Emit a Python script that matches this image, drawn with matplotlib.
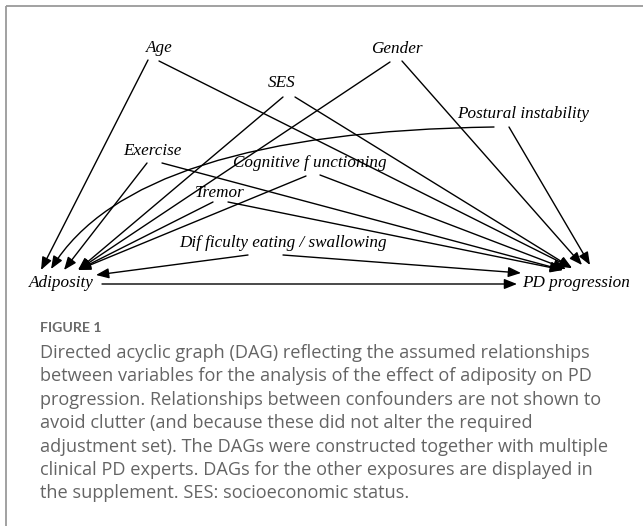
import matplotlib.pyplot as plt
from matplotlib.patches import FancyArrowPatch
from matplotlib.path import Path

# 节点（像素坐标，原图 643x526）
node_names = ['Age', 'Gender', 'SES', 'Postural instability', 'Exercise',
              'Cognitive f unctioning', 'Tremor', 'Dif ficulty eating / swallowing',
              'Adiposity', 'PD progression']
node_x = [159, 397, 282, 523, 152, 310, 220, 283, 61, 576]
node_y = [48, 49, 83, 114, 151, 163, 193, 243, 283, 283]

confounders = node_names[:8]
# 起点偏移：指向 Adiposity / 指向 PD progression
out_left = [(-11, 12), (-7, 13), (1, 14), (-29, 13), (-5, 12), (-4, 13), (-7, 9), (-35, 12)]
out_right = [(0, 13), (5, 12), (13, 14), (-14, 13), (10, 12), (10, 12), (8, 9), (0, 12)]
# 箭头落点偏移（相对 Adiposity / PD progression）
tip_adiposity = [(-20, -13), (17, -13), (17, -13), (-10, -14), (3, -13), (17, -13), (17, -13), (35, -8)]
tip_pd = [(-4, -15), (6, -18), (-4, -15), (14, -18), (-13, -13), (-10, -14), (-13, -13), (-55, -10)]
curved = 'Postural instability'
curve_ctrl = (135, 132)

caption_title = 'FIGURE 1'
caption_lines = [
    'Directed acyclic graph (DAG) reflecting the assumed relationships',
    'between variables for the analysis of the effect of adiposity on PD',
    'progression. Relationships between confounders are not shown to',
    'avoid clutter (and because these did not alter the required',
    'adjustment set). The DAGs were constructed together with multiple',
    'clinical PD experts. DAGs for the other exposures are displayed in',
    'the supplement. SES: socioeconomic status.',
]

fig = plt.figure(figsize=(6.43, 5.26), dpi=100)
ax = fig.add_axes([0, 0, 1, 1])
ax.set_xlim(0, 643)
ax.set_ylim(526, 0)
ax.axis('off')

pos = dict(zip(node_names, zip(node_x, node_y)))
arrow_kw = dict(arrowstyle='-|>,head_length=0.55,head_width=0.22', mutation_scale=14,
                color='black', lw=1.0, shrinkA=0, shrinkB=0)

def arrow(p0, p1, ctrl=None):
    if ctrl is None:
        a = FancyArrowPatch(p0, p1, **arrow_kw)
    else:
        a = FancyArrowPatch(path=Path([p0, ctrl, p1], [Path.MOVETO, Path.CURVE3, Path.CURVE3]),
                            **arrow_kw)
    ax.add_patch(a)

ax_x, ax_y = pos['Adiposity']
pd_x, pd_y = pos['PD progression']
for i, name in enumerate(confounders):
    x, y = pos[name]
    s1 = (x + out_left[i][0], y + out_left[i][1])
    e1 = (ax_x + tip_adiposity[i][0], ax_y + tip_adiposity[i][1])
    arrow(s1, e1, curve_ctrl if name == curved else None)
    s2 = (x + out_right[i][0], y + out_right[i][1])
    e2 = (pd_x + tip_pd[i][0], pd_y + tip_pd[i][1])
    arrow(s2, e2)

# 暴露 -> 结局
arrow((ax_x + 41, ax_y + 1), (pd_x - 59, pd_y + 1))

for name in node_names:
    ax.text(pos[name][0], pos[name][1], name, ha='center', va='center',
            fontsize=12.3, fontstyle='italic', family='Liberation Serif')

# 外框（上、左）
ax.plot([6, 643], [6, 6], color='#9a9a9a', lw=1.3, solid_capstyle='butt')
ax.plot([6, 6], [6, 526], color='#9a9a9a', lw=1.3, solid_capstyle='butt')

# 图注
ax.text(40, 332, caption_title, ha='left', va='baseline', fontsize=10.2,
        fontweight='bold', color='#6a6a6a', family='Lato')
for k, line in enumerate(caption_lines):
    ax.text(40, 358 + 23.4 * k, line, ha='left', va='baseline', fontsize=13.1,
            color='#646464', family='Open Sans')

fig.savefig('out.png', dpi=100)
